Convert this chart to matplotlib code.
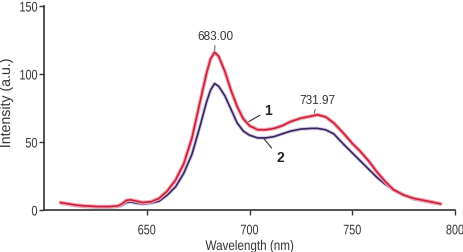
import matplotlib
matplotlib.use("Agg")
import matplotlib.pyplot as plt
from matplotlib.patheffects import AbstractPathEffect
from matplotlib.transforms import Affine2D

# ---- data ----
wl_1 = [608, 612, 616, 620, 626, 632, 636, 638, 640, 642, 645, 648, 652, 656, 660, 664,
        668, 672, 676, 679, 681, 683, 685, 688, 691, 694, 697, 700, 704, 708, 712, 716,
        720, 725, 730, 733, 737, 741, 746, 750, 754, 758, 762, 766, 770, 775, 780, 785, 790, 793]
int_1 = [5.5, 4.5, 3.5, 3.0, 2.5, 2.5, 3.0, 4.5, 7.0, 7.5, 6.5, 5.5, 6.0, 8.5, 14, 22,
         34, 53, 80, 100, 111, 116, 113, 102, 88, 76, 67, 62, 59, 59, 60, 62,
         65, 67.5, 69, 70, 68.5, 64, 56, 49, 43, 36, 28, 21, 15, 11, 8.5, 7, 5.5, 4.5]

wl_2 = [608, 612, 616, 620, 626, 632, 636, 638, 640, 642, 645, 648, 652, 656, 660, 664,
        668, 672, 676, 679, 681, 683, 685, 688, 691, 694, 697, 700, 704, 708, 712, 716,
        720, 725, 730, 733, 737, 741, 746, 750, 754, 758, 762, 766, 770, 775, 780, 785, 790, 793]
int_2 = [5.0, 4.0, 3.0, 2.5, 2.0, 2.0, 2.5, 3.5, 5.5, 6.0, 5.0, 4.5, 5.0, 6.5, 11, 17,
         27, 41, 62, 79, 88, 93, 91, 84, 74, 64, 58, 55, 53, 53, 54, 56,
         58, 59.5, 60, 60, 59, 56, 48, 42, 36, 30, 24, 19, 15, 11, 8, 6.5, 5, 4.5]

peak_labels = ["683.00", "731.97"]
peak_wl = [683.0, 731.97]
peak_val = [116, 70]
curve_names = ["1", "2"]
xticks = [650, 700, 750, 800]
yticks = [0, 50, 100, 150]

plt.rcParams['font.family'] = ["Liberation Sans", "DejaVu Sans"]


class Narrow(AbstractPathEffect):
    """Horizontally condense text glyphs (emulates a narrow typeface)."""
    def __init__(self, s=0.8, anchor="center"):
        super().__init__()
        self.s = s
        self.anchor = anchor

    def draw_path(self, renderer, gc, tpath, affine, rgbFace=None):
        ext = tpath.get_extents()
        if self.anchor == "right":
            cx = ext.x1
        elif self.anchor == "left":
            cx = ext.x0
        else:
            cx = 0.5 * (ext.x0 + ext.x1)
        t = Affine2D().translate(-cx, 0).scale(self.s, 1).translate(cx, 0) + affine
        renderer.draw_path(gc, tpath, t, rgbFace)


fig = plt.figure(figsize=(4.64, 2.52), dpi=100)
ax = fig.add_axes([44/464, 1-210/252, (455-44)/464, (210-6)/252])

# curve 2 (purple)
ax.plot(wl_2, int_2, color="#d6cbe8", lw=2.6, solid_capstyle="round", zorder=2)
ax.plot(wl_2, int_2, color="#35245e", lw=1.2, solid_capstyle="round", zorder=3)
# curve 1 (red)
ax.plot(wl_1, int_1, color="#f5a8b2", lw=2.8, solid_capstyle="round", zorder=4)
ax.plot(wl_1, int_1, color="#c81e3c", lw=1.2, solid_capstyle="round", zorder=5)

ax.set_xlim(600, 800)
ax.set_ylim(0, 150)
ax.set_xticks(xticks)
ax.set_yticks(yticks)
ax.tick_params(labelsize=10, colors="#333333", length=3.6, width=1, direction="out")
ax.tick_params(axis="y", pad=1)
ax.tick_params(axis="x", pad=6)
for s in ["top", "right"]:
    ax.spines[s].set_visible(False)
for s in ["left", "bottom"]:
    ax.spines[s].set_color("#333333")
    ax.spines[s].set_linewidth(1.2)

xl = ax.set_xlabel("Wavelength (nm)", fontsize=10, color="#333333")
ax.xaxis.set_label_coords((250 - 44) / 411, -(250 - 210) / 204)
xl.set_va("baseline")
yl = ax.set_ylabel("Intensity (a.u.)", fontsize=10.5, color="#333333")
ax.yaxis.set_label_coords(-(44 - 13) / 411, (210 - 103) / 204)

# peak annotations
ax.annotate(peak_labels[0], xy=(peak_wl[0], peak_val[0] + 1), xytext=(683.5, 123),
            ha="center", va="bottom", fontsize=8.5, color="#333333",
            arrowprops=dict(arrowstyle="-", color="#555555", lw=0.7, shrinkA=0, shrinkB=0))
ax.annotate(peak_labels[1], xy=(peak_wl[1] - 0.5, peak_val[1] + 1), xytext=(733, 76),
            ha="center", va="bottom", fontsize=8.5, color="#333333",
            arrowprops=dict(arrowstyle="-", color="#555555", lw=0.7, shrinkA=0, shrinkB=0))

# curve labels
ax.annotate(curve_names[0], xy=(698.5, 64), xytext=(707, 73),
            ha="left", va="center", fontsize=10, fontweight="bold", color="#222222",
            arrowprops=dict(arrowstyle="-", color="#333333", lw=0.8, shrinkA=1, shrinkB=0))
ax.annotate(curve_names[1], xy=(707, 52.5), xytext=(713, 38),
            ha="left", va="center", fontsize=10, fontweight="bold", color="#222222",
            arrowprops=dict(arrowstyle="-", color="#333333", lw=0.8, shrinkA=2, shrinkB=0))

fig.canvas.draw()
for lbl in ax.get_xticklabels():
    lbl.set_path_effects([Narrow(0.78, "center")])
for lbl in ax.get_yticklabels():
    lbl.set_path_effects([Narrow(0.78, "right")])
xl.set_path_effects([Narrow(0.84, "center")])
yl.set_path_effects([Narrow(0.97, "center")])

fig.savefig("out.png", dpi=100)
